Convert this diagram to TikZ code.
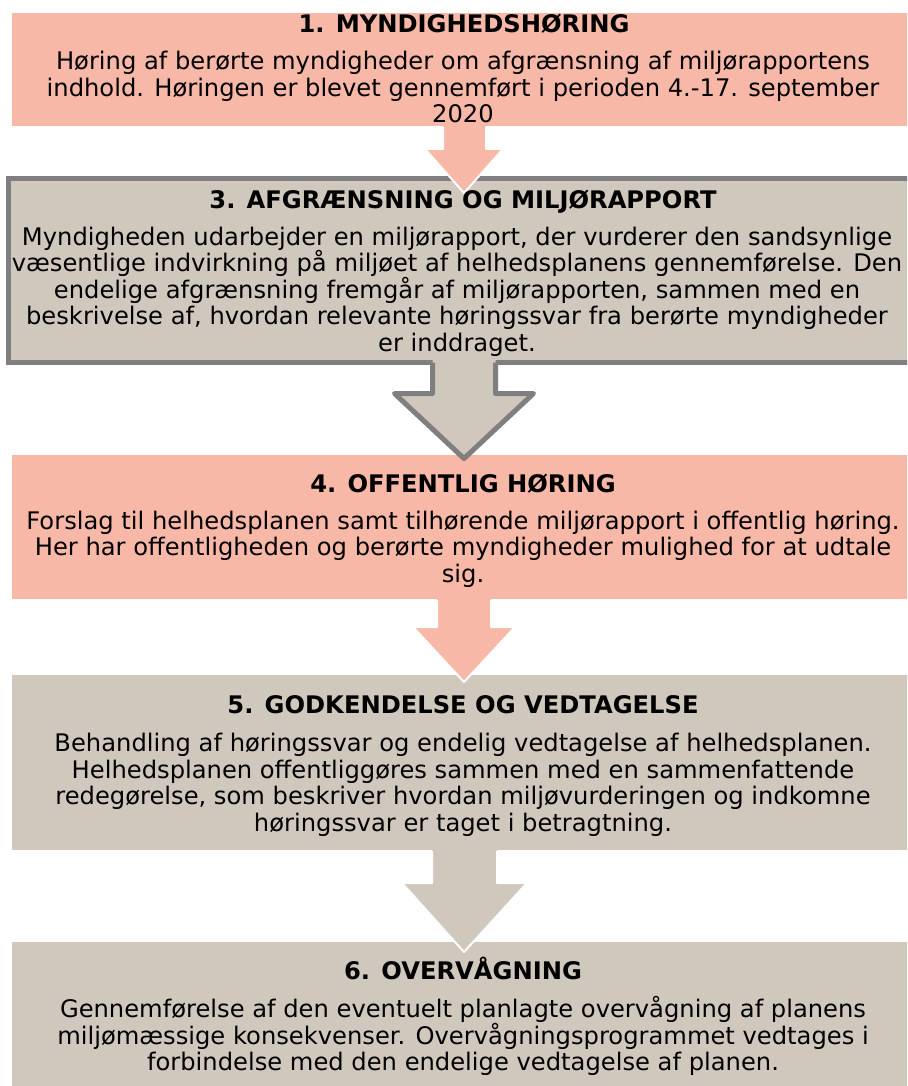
\documentclass[tikz,border=0pt]{standalone}
\usepackage{fontspec}
\setmainfont{DejaVu Sans}
\definecolor{salmon}{HTML}{F8B8A8}
\definecolor{beige}{HTML}{D0C8BD}
\definecolor{bordergray}{HTML}{7F7F7F}
\begin{document}
\begin{tikzpicture}[x=1pt,y=-1pt,
  salmonbox/.style={rectangle, fill=salmon, inner sep=0pt, outer sep=0pt, anchor=north west},
  beigebox/.style={rectangle, fill=beige, inner sep=0pt, outer sep=0pt, anchor=north west},
  graybox/.style={rectangle, fill=beige, draw=bordergray, line width=5pt, inner sep=0pt, outer sep=0pt, anchor=north west},
  titletext/.style={font=\fontsize{24.2}{26.5}\selectfont\bfseries, anchor=base, inner sep=0pt},
  bodytext/.style={font=\fontsize{24.2}{26.5}\selectfont, align=center, anchor=base, inner sep=0pt},
  whitearrow/.style={line width=2pt, draw=white, line join=round},
  grayarrow/.style={line width=5pt, draw=bordergray, line join=round}]
\clip (0,0) rectangle (907,1086);
\fill[white] (0,0) rectangle (907,1086);
% boxes
\node[salmonbox, minimum width=904pt, minimum height=113pt] (b1) at (12,13) {};
\node[graybox, minimum width=911.5pt, minimum height=184pt] (b3) at (8.5,178.5) {};
\node[salmonbox, minimum width=904pt, minimum height=144pt] (b4) at (12,455) {};
\node[beigebox, minimum width=904pt, minimum height=175pt] (b5) at (12,675) {};
\node[beigebox, minimum width=904pt, minimum height=160pt] (b6) at (12,942) {};
% arrow 1 -> 3
\fill[salmon] (443,126) -- (443,149) -- (425,149) -- (464,193) -- (503,149) -- (486,149) -- (486,126) -- cycle;
\draw[whitearrow] (443,127) -- (443,149) -- (425,149) -- (464,193) -- (503,149) -- (486,149) -- (486,127);
% arrow 3 -> 4
\fill[beige] (432.5,356) -- (432.5,393.5) -- (394.5,393.5) -- (464,458.5) -- (533.5,393.5) -- (495.5,393.5) -- (495.5,356) -- cycle;
\draw[grayarrow] (432.5,362.5) -- (432.5,393.5) -- (394.5,393.5) -- (464,458.5) -- (533.5,393.5) -- (495.5,393.5) -- (495.5,362.5);
% arrow 4 -> 5
\fill[salmon] (437,599) -- (437,627) -- (413,627) -- (464,682) -- (515,627) -- (491,627) -- (491,599) -- cycle;
\draw[whitearrow] (437,600) -- (437,627) -- (413,627) -- (464,682) -- (515,627) -- (491,627) -- (491,600);
% arrow 5 -> 6
\fill[beige] (432,850) -- (432,883) -- (402,883) -- (464,952) -- (527,883) -- (497,883) -- (497,850) -- cycle;
\draw[whitearrow] (432,851) -- (432,883) -- (402,883) -- (464,952) -- (527,883) -- (497,883) -- (497,851);
% texts (body nodes anchored at the baseline of their last line)
\node[titletext] (t1) at (464,32.5) {1. MYNDIGHEDSHØRING};
\node[bodytext] (d1) at (463,123) {Høring af berørte myndigheder om afgrænsning af miljørapportens\\indhold. Høringen er blevet gennemført i perioden 4.-17. september\\2020};
\node[titletext] (t3) at (463,208.5) {3. AFGRÆNSNING OG MILJØRAPPORT};
\node[bodytext] (d3) at (457,351) {Myndigheden udarbejder en miljørapport, der vurderer den sandsynlige\\væsentlige indvirkning på miljøet af helhedsplanens gennemførelse. Den\\endelige afgrænsning fremgår af miljørapporten, sammen med en\\beskrivelse af, hvordan relevante høringssvar fra berørte myndigheder\\er inddraget.};
\node[titletext] (t4) at (463,492) {4. OFFENTLIG HØRING};
\node[bodytext] (d4) at (463,582) {Forslag til helhedsplanen samt tilhørende miljørapport i offentlig høring.\\Her har offentligheden og berørte myndigheder mulighed for at udtale\\sig.};
\node[titletext] (t5) at (463,713.5) {5. GODKENDELSE OG VEDTAGELSE};
\node[bodytext] (d5) at (463,831) {Behandling af høringssvar og endelig vedtagelse af helhedsplanen.\\Helhedsplanen offentliggøres sammen med en sammenfattende\\redegørelse, som beskriver hvordan miljøvurderingen og indkomne\\høringssvar er taget i betragtning.};
\node[titletext] (t6) at (463,979.5) {6. OVERVÅGNING};
\node[bodytext] (d6) at (463,1070.5) {Gennemførelse af den eventuelt planlagte overvågning af planens\\miljømæssige konsekvenser. Overvågningsprogrammet vedtages i\\forbindelse med den endelige vedtagelse af planen.};
\end{tikzpicture}
\end{document}
